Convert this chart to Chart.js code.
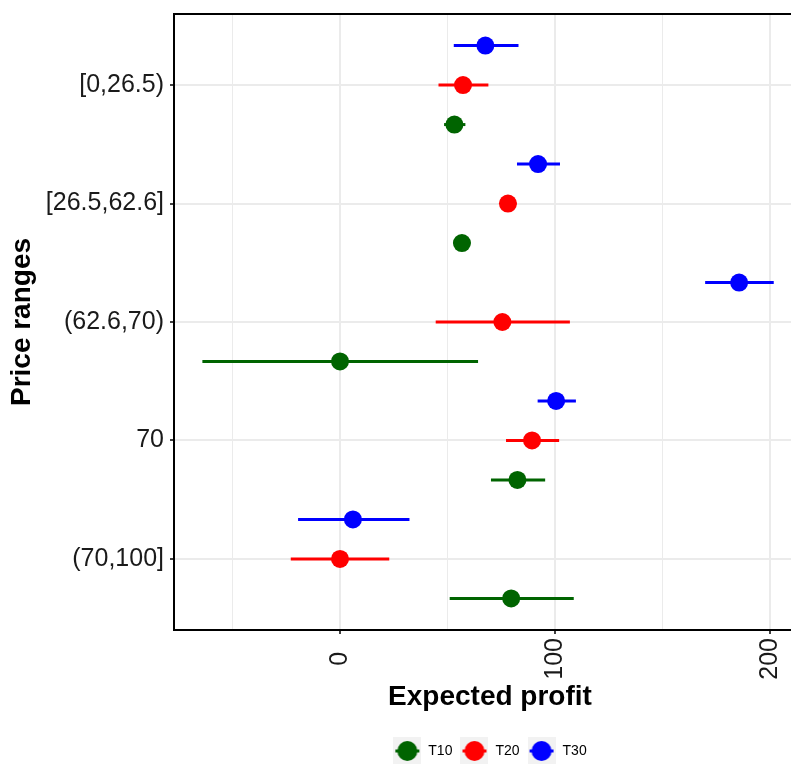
<!DOCTYPE html>
<html>
<head>
<meta charset="utf-8">
<script src="https://cdn.jsdelivr.net/npm/chart.js@4.4.1/dist/chart.umd.min.js"></script>
<style>
  body { margin: 0; background: #fff; overflow: hidden; }
  /* the panel runs past the right edge of the picture, as in the original */
  #moldura { width: 791px; height: 764px; overflow: hidden; position: relative; }
  #wrap { width: 806px; height: 768px; position: absolute; left: 0; top: 0; }
</style>
</head>
<body>
<div id="moldura"><div id="wrap"><canvas id="myChart"></canvas></div></div>
<script>
// Price range categories (top to bottom)
const categories = ['[0,26.5)', '[26.5,62.6]', '(62.6,70)', '70', '(70,100]'];
const seriesNames = ['T10', 'T20', 'T30'];

// Expected profit: point estimate and interval per category
const t10Mean = [53.2, 56.7, 0, 82.5, 79.6];
const t10Low = [48.4, 53.0, -64.0, 70.2, 51.0];
const t10High = [58.3, 60.6, 64.2, 95.4, 108.7];

const t20Mean = [57.2, 78.1, 75.5, 89.3, 0];
const t20Low = [45.8, 74.5, 44.5, 77.2, -22.9];
const t20High = [69.0, 82.0, 106.9, 101.9, 22.9];

const t30Mean = [67.6, 92.1, 185.6, 100.5, 6.0];
const t30Low = [52.9, 82.3, 169.8, 91.9, -19.5];
const t30High = [83.0, 102.3, 201.7, 109.7, 32.3];

const xTicks = [-50, 0, 50, 100, 150, 200];

const cores = ['#006400', '#FF0000', '#0000FF'];
const FONTE = '"Liberation Sans", Arial, Helvetica, sans-serif';

// dodge: T10 below, T20 on the line, T30 above (axis is reversed)
const deslocamento = [1 / 3, 0, -1 / 3];

function montarSerie(nome, media, baixo, alto, k) {
  return {
    label: nome,
    data: categories.map((c, i) => ({ x: media[i], y: i + 1 + deslocamento[k] })),
    low: baixo,
    high: alto,
    backgroundColor: cores[k],
    borderWidth: 0,
    pointRadius: 9,
    pointHoverRadius: 9,
  };
}

function chaveLegenda(cor) {
  const c = document.createElement('canvas');
  c.width = 28; c.height = 28;
  const ctx = c.getContext('2d');
  ctx.fillStyle = '#F2F2F2';
  ctx.fillRect(0, 0, 28, 28);
  ctx.strokeStyle = cor;
  ctx.lineWidth = 3;
  ctx.beginPath(); ctx.moveTo(2, 14); ctx.lineTo(26, 14); ctx.stroke();
  ctx.fillStyle = cor;
  ctx.beginPath(); ctx.arc(14, 14, 10, 0, Math.PI * 2); ctx.fill();
  return c;
}
const chaves = cores.map(chaveLegenda);

// error bars under the points + panel border on top
const barrasErro = {
  id: 'barrasErro',
  beforeDatasetsDraw(chart) {
    const { ctx, scales: { x, y } } = chart;
    ctx.save();
    ctx.lineWidth = 3;
    chart.data.datasets.forEach(ds => {
      ctx.strokeStyle = ds.backgroundColor;
      ds.data.forEach((p, i) => {
        const py = y.getPixelForValue(p.y);
        ctx.beginPath();
        ctx.moveTo(x.getPixelForValue(ds.low[i]), py);
        ctx.lineTo(x.getPixelForValue(ds.high[i]), py);
        ctx.stroke();
      });
    });
    ctx.restore();
  },
  afterDraw(chart) {
    const { ctx, chartArea: a } = chart;
    ctx.save();
    ctx.strokeStyle = '#000';
    ctx.lineWidth = 2;
    ctx.strokeRect(a.left, a.top, a.right - a.left, a.bottom - a.top);
    ctx.restore();
  }
};

(() => {
  const grafico = new Chart('myChart', {
    type: 'scatter',
    data: {
      datasets: [
        montarSerie(seriesNames[0], t10Mean, t10Low, t10High, 0),
        montarSerie(seriesNames[1], t20Mean, t20Low, t20High, 1),
        montarSerie(seriesNames[2], t30Mean, t30Low, t30High, 2),
      ]
    },
    options: {
      responsive: true,
      maintainAspectRatio: false,
      animation: false,
      layout: { autoPadding: false, padding: { top: 14, left: 0, right: 0, bottom: 0 } },
      scales: {
        x: {
          type: 'linear',
          min: -77.2,
          max: 216.7,
          afterBuildTicks: s => { s.ticks = xTicks.map(v => ({ value: v })); },
          afterFit: s => { s.height = 106; s.paddingLeft = 0; s.paddingRight = 0; },
          border: { display: false },
          grid: {
            color: '#EBEBEB',
            lineWidth: c => (c.tick && c.tick.value % 100 === 0 ? 2 : 1),
            drawTicks: true,
            tickLength: 4,
            tickWidth: 1.5,
            tickColor: c => (c.tick && c.tick.value % 100 === 0 ? '#000' : 'rgba(0,0,0,0)'),
          },
          ticks: {
            minRotation: 90,
            maxRotation: 90,
            padding: 4,
            color: '#1a1a1a',
            font: { family: FONTE, size: 25 },
            // trailing spaces keep the rotated labels centred like the original
            callback: v => {
              if (v % 100 !== 0) return '';
              const s = String(v);
              return s + ' '.repeat(3 - s.length);
            }
          },
          title: {
            display: true,
            text: 'Expected profit',
            color: '#000',
            font: { family: FONTE, size: 28, weight: 'bold' },
            padding: { top: 0, bottom: 22 }
          }
        },
        y: {
          type: 'linear',
          reverse: true,
          min: 0.4,
          max: 5.6,
          afterBuildTicks: s => { s.ticks = categories.map((c, i) => ({ value: i + 1 })); },
          afterFit: s => { s.width = 174; s.paddingTop = 0; s.paddingBottom = 0; },
          border: { display: false },
          grid: {
            color: '#EBEBEB',
            lineWidth: 2,
            drawTicks: true,
            tickLength: 4,
            tickWidth: 1.5,
            tickColor: '#000',
          },
          ticks: {
            padding: 6,
            color: '#1a1a1a',
            font: { family: FONTE, size: 25 },
            callback: v => categories[Math.round(v) - 1] || ''
          },
          title: {
            display: true,
            text: 'Price ranges',
            color: '#000',
            font: { family: FONTE, size: 28, weight: 'bold' },
            padding: { top: 5, bottom: 0 }
          }
        }
      },
      plugins: {
        tooltip: { enabled: false },
        legend: {
          display: true,
          position: 'bottom',
          fullSize: false,
          labels: {
            usePointStyle: true,
            pointStyleWidth: 28,
            padding: 8,
            color: '#1a1a1a',
            font: { family: FONTE, size: 14 },
            generateLabels: chart => chart.data.datasets.map((ds, i) => ({
              text: ds.label,
              pointStyle: chaves[i],
              datasetIndex: i,
              hidden: false,
              lineWidth: 0,
              fillStyle: ds.backgroundColor,
              strokeStyle: ds.backgroundColor,
            }))
          }
        }
      }
    },
    plugins: [barrasErro]
  });
})();
</script>
</body>
</html>
